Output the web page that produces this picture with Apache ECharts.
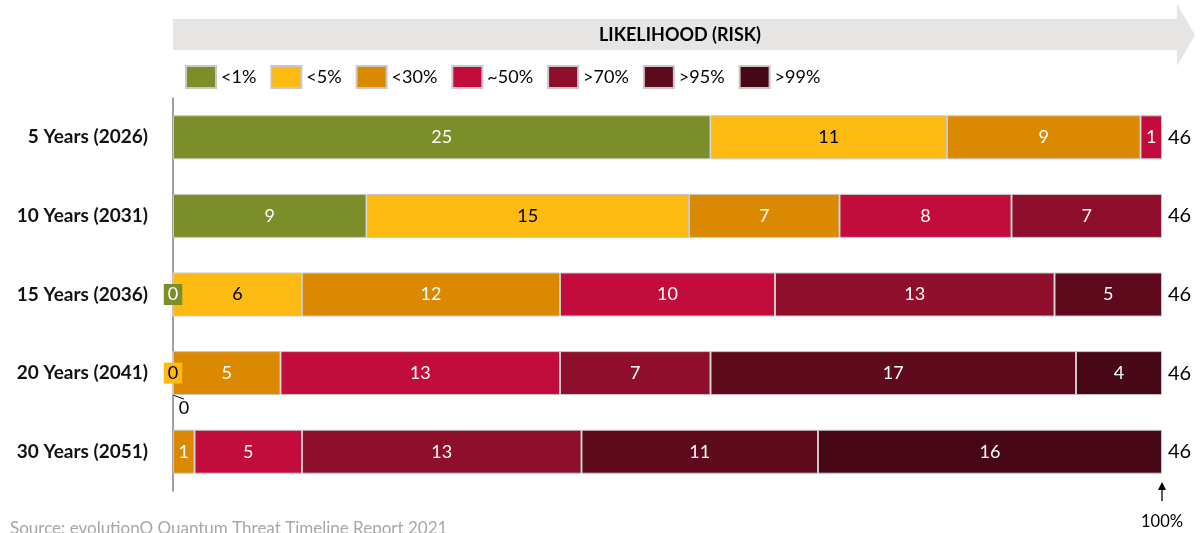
<!DOCTYPE html>
<html>
<head>
<meta charset="utf-8">
<script src="https://cdn.jsdelivr.net/npm/echarts@6/dist/echarts.min.js"></script>
<style>
html,body{margin:0;padding:0;background:#fff;}
#chart{width:1204px;height:533px;}
</style>
</head>
<body>
<div id="chart"></div>
<script>
// ---- data ----
const categories = ['5 Years (2026)', '10 Years (2031)', '15 Years (2036)', '20 Years (2041)', '30 Years (2051)'];
const seriesNames = ['<1%', '<5%', '<30%', '~50%', '>70%', '>95%', '>99%'];
const lt1  = [25, 9, 0, 0, 0];
const lt5  = [11, 15, 6, 0, 0];
const lt30 = [9, 7, 12, 5, 1];
const ap50 = [1, 8, 10, 13, 5];
const gt70 = [0, 7, 13, 7, 13];
const gt95 = [0, 0, 5, 17, 11];
const gt99 = [0, 0, 0, 4, 16];
const totals = ['46', '46', '46', '46', '46'];
// zero values that carry a visible label: [seriesIndex, categoryIndex]
const labelledZeros = [[0, 2], [1, 3], [0, 3]];
// zero label placed below the bar with a leader line
const zeroBelow = [0, 3];

const values = [lt1, lt5, lt30, ap50, gt70, gt95, gt99];
const colors = ['#7B8E2A', '#FCBA12', '#DA8900', '#C20D3C', '#8E0E2B', '#5E0A1C', '#480716'];
const textColors = ['#fff', '#000', '#fff', '#fff', '#fff', '#fff', '#fff'];
const FONT = 'Lato, "Open Sans", sans-serif';

function isLabelledZero(s, c) {
  return labelledZeros.some(z => z[0] === s && z[1] === c);
}

const series = values.map((arr, s) => ({
  name: seriesNames[s],
  type: 'bar',
  stack: 'total',
  barWidth: 44,
  itemStyle: { color: colors[s], borderColor: '#C8C8C8', borderWidth: 1 },
  label: {
    show: true, position: 'inside', color: textColors[s],
    fontFamily: FONT, fontSize: 18
  },
  labelLine: { show: false },
  labelLayout: function (p) {
    if (s === zeroBelow[0] && p.dataIndex === zeroBelow[1]) {
      return { dx: 11, dy: 35 };
    }
    return {};
  },
  data: arr.map((v, c) => {
    if (v === 0 && !isLabelledZero(s, c)) return '-';
    if (v === 0) {
      if (s === zeroBelow[0] && c === zeroBelow[1]) {
        return { value: 0, label: { color: '#000' },
                 labelLine: { show: true, lineStyle: { color: '#000', width: 1 } } };
      }
      return { value: 0, label: { backgroundColor: colors[s], padding: [2, 4, 1, 4] } };
    }
    return v;
  })
}));

const chart = echarts.init(document.getElementById('chart'));
chart.setOption({
  animation: false,
  backgroundColor: '#fff',
  textStyle: { fontFamily: FONT },
  legend: {
    left: 180, top: 60,
    itemWidth: 30, itemHeight: 22, itemGap: 14,
    icon: 'rect',
    textStyle: { fontFamily: FONT, fontSize: 18, color: '#000' },
    data: seriesNames
  },
  grid: { left: 173, right: 42, top: 98, bottom: 42 },
  xAxis: { type: 'value', min: 0, max: 46, show: false },
  yAxis: [
    {
      type: 'category', data: categories, inverse: true,
      axisLine: { show: true, lineStyle: { color: '#7F7F7F', width: 1.5 } },
      axisTick: { show: false },
      axisLabel: { fontFamily: FONT, fontSize: 19, fontWeight: 'bold', color: '#111', margin: 25 }
    },
    {
      type: 'category', data: totals, inverse: true, position: 'right',
      axisLine: { show: false }, axisTick: { show: false },
      axisLabel: { fontFamily: FONT, fontSize: 20, color: '#000', margin: 6 }
    }
  ],
  series: series,
  graphic: [
    {
      type: 'polygon', z: -1,
      shape: { points: [[173, 19], [1177, 19], [1177, 4], [1195, 35], [1177, 66], [1177, 50], [173, 50]] },
      style: { fill: '#E7E5E4' }
    },
    {
      type: 'text', x: 680, y: 35,
      style: { text: 'LIKELIHOOD (RISK)', fill: '#000', font: 'bold 18px ' + FONT, align: 'center', verticalAlign: 'middle' }
    },
    {
      type: 'line', shape: { x1: 1162, y1: 501, x2: 1162, y2: 488 },
      style: { stroke: '#000', lineWidth: 1.3 }
    },
    {
      type: 'polygon', shape: { points: [[1158, 490], [1162, 482], [1166, 490]] },
      style: { fill: '#000' }
    },
    {
      type: 'text', x: 1162, y: 522,
      style: { text: '100%', fill: '#000', font: '16.5px ' + FONT, align: 'center', verticalAlign: 'middle' }
    },
    {
      type: 'text', x: 10, y: 520,
      style: { text: 'Source: evolutionQ Quantum Threat Timeline Report 2021', fill: '#A6A6A6', font: '17px ' + FONT, align: 'left', verticalAlign: 'top' }
    }
  ]
});
</script>
</body>
</html>
